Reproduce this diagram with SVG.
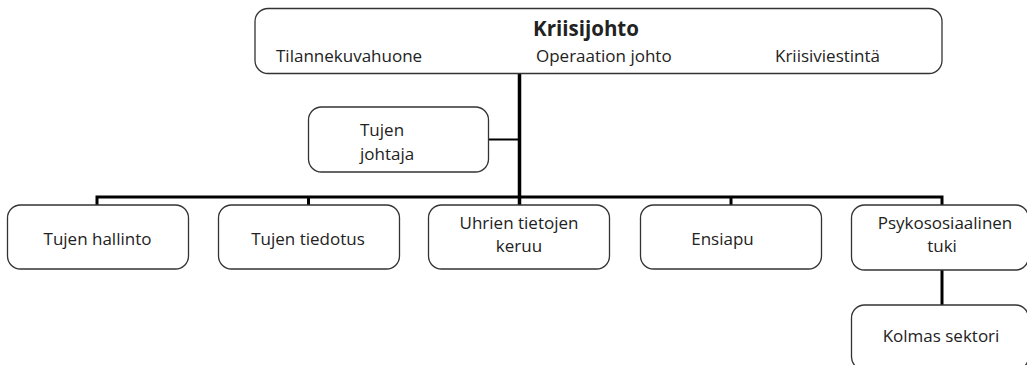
<svg xmlns="http://www.w3.org/2000/svg" width="1027" height="365" viewBox="0 0 1027 365">
<style>
.box{fill:#fff;stroke:#333;stroke-width:1.3}
.t{font-family:"Open Sans","Noto Sans",sans-serif;font-size:17px;fill:#222}
.c{text-anchor:middle}
.b{font-weight:bold;font-size:20.5px}
.con{stroke:#000;fill:none}
</style>
<rect width="1027" height="365" fill="#fff"/>
<g id="connectors">
<line class="con" x1="519.5" y1="73" x2="519.5" y2="205" stroke-width="3.5"/>
<line class="con" x1="488" y1="139.5" x2="519.5" y2="139.5" stroke-width="2"/>
<polyline class="con" points="97,205 97,197 942,197 942,205" stroke-width="3"/>
<line class="con" x1="308.5" y1="197" x2="308.5" y2="205" stroke-width="3"/>
<line class="con" x1="731" y1="197" x2="731" y2="205" stroke-width="3"/>
<line class="con" x1="942" y1="270" x2="942" y2="305" stroke-width="3"/>
</g>
<g id="kriisijohto">
<rect class="box" x="255" y="8.5" width="687" height="65" rx="13"/>
<text class="t c b" x="586" y="36">Kriisijohto</text>
<text class="t" x="276" y="62">Tilannekuvahuone</text>
<text class="t" x="536" y="62">Operaation johto</text>
<text class="t" x="775" y="62">Kriisiviestintä</text>
</g>
<g id="tujen-johtaja">
<rect class="box" x="308.5" y="107" width="180" height="65" rx="13"/>
<text class="t" x="360" y="136">Tujen</text>
<text class="t" x="360" y="160">johtaja</text>
</g>
<g id="tujen-hallinto">
<rect class="box" x="7.5" y="205" width="181" height="64" rx="13"/>
<text class="t c" x="97.5" y="245">Tujen hallinto</text>
</g>
<g id="tujen-tiedotus">
<rect class="box" x="218.5" y="205" width="181" height="64" rx="13"/>
<text class="t c" x="308" y="245">Tujen tiedotus</text>
</g>
<g id="uhrien-tietojen-keruu">
<rect class="box" x="428.5" y="205" width="181" height="64" rx="13"/>
<text class="t c" x="519" y="229">Uhrien tietojen</text>
<text class="t c" x="519" y="252">keruu</text>
</g>
<g id="ensiapu">
<rect class="box" x="640.5" y="205" width="181" height="64" rx="13"/>
<text class="t c" x="722.5" y="245">Ensiapu</text>
</g>
<g id="psykososiaalinen-tuki">
<rect class="box" x="851.5" y="205" width="177" height="65" rx="13"/>
<text class="t c" x="945" y="229">Psykososiaalinen</text>
<text class="t c" x="942" y="252">tuki</text>
</g>
<g id="kolmas-sektori">
<rect class="box" x="851.5" y="305" width="177" height="65" rx="13"/>
<text class="t c" x="941" y="342">Kolmas sektori</text>
</g>
</svg>
